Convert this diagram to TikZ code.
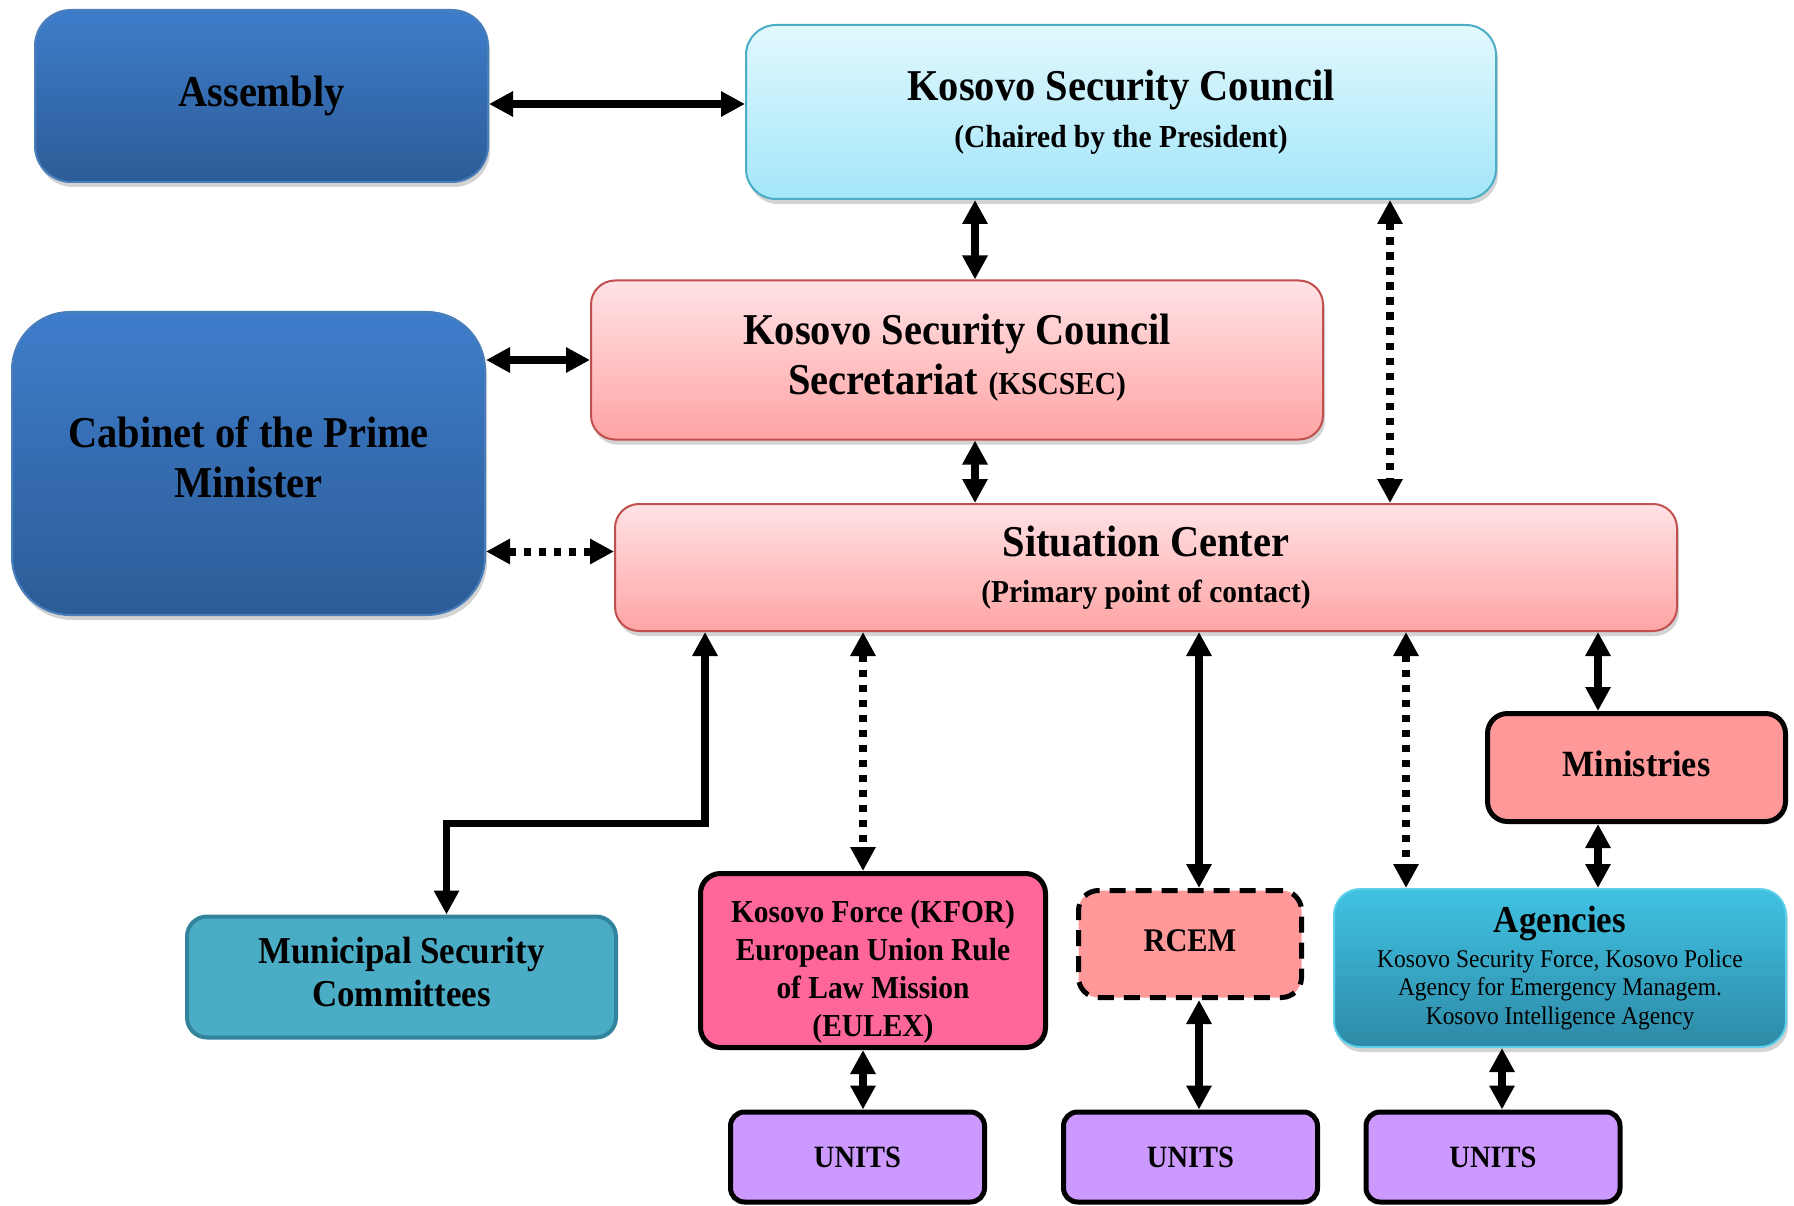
\documentclass[tikz,border=0pt]{standalone}
\usepackage{fontspec}
\setmainfont{Liberation Serif}[FakeStretch=0.92]
\usetikzlibrary{arrows.meta,shadows,positioning}

\definecolor{bluetop}{HTML}{3E7DCB}
\definecolor{bluebot}{HTML}{2C5C97}
\definecolor{blueedge}{HTML}{4A7EBB}
\definecolor{cyantop}{HTML}{E2F8FD}
\definecolor{cyanbot}{HTML}{A3E6FA}
\definecolor{cyanedge}{HTML}{4BACC6}
\definecolor{pinktop}{HTML}{FFE2E5}
\definecolor{pinkbot}{HTML}{FFA4A4}
\definecolor{pinkedge}{HTML}{C0504D}
\definecolor{mscfill}{HTML}{4BACC6}
\definecolor{mscedge}{HTML}{31849B}
\definecolor{kforfill}{HTML}{FF6699}
\definecolor{salmon}{HTML}{FF9999}
\definecolor{unitfill}{HTML}{CC99FF}
\definecolor{agencytop}{HTML}{40C2E3}
\definecolor{agencybot}{HTML}{2E8AA6}
\definecolor{agencyedge}{HTML}{5CCFEA}

\begin{document}
\begin{tikzpicture}[x=1pt, y=-1pt, font=\bfseries,
  every node/.style={inner sep=0pt, align=center},
  glossy/.style={rounded corners=30pt, line width=2pt, drop shadow={shadow xshift=2pt, shadow yshift=-5pt, opacity=0.35}},
  bluebox/.style={glossy, draw=blueedge, top color=bluetop, bottom color=bluebot},
  cyanbox/.style={glossy, draw=cyanedge, top color=cyantop, bottom color=cyanbot},
  pinkbox/.style={glossy, rounded corners=24pt, draw=pinkedge, top color=pinktop, bottom color=pinkbot},
  flatbox/.style={rounded corners=20pt, line width=5pt, draw=black},
  unitbox/.style={flatbox, rounded corners=14pt, fill=unitfill, minimum width=254pt, minimum height=90pt, font=\bfseries\fontsize{31}{36}\selectfont},
  twoway/.style={line width=7.5pt, {Triangle[length=24pt,width=24pt]}-{Triangle[length=24pt,width=24pt]}},
  dotway/.style={twoway, line width=8pt, dash pattern=on 7.5pt off 7.5pt}]
\useasboundingbox (0,0) rectangle (1794,1206);

% top level
\node[bluebox, rounded corners=36pt, minimum width=453pt, minimum height=172pt, font=\bfseries\fontsize{44}{50}\selectfont] (assembly) at (261.5,96) {Assembly};
\node[cyanbox, minimum width=750pt, minimum height=174pt, font=\bfseries\fontsize{44}{47}\selectfont] (ksc) at (1121,112) {Kosovo Security Council\\{\fontsize{32}{47}\selectfont (Chaired by the President)}};
\node[pinkbox, minimum width=732pt, minimum height=159pt, font=\bfseries\fontsize{44}{50}\selectfont] (kscsec) at (957,360) {Kosovo Security Council\\Secretariat {\fontsize{32}{50}\selectfont (KSCSEC)}\rule[-12pt]{0pt}{12pt}};
\node[bluebox, rounded corners=58pt, minimum width=473pt, minimum height=303pt, font=\bfseries\fontsize{44}{50}\selectfont] (cabinet) at (248.5,463.5) {Cabinet of the Prime\\Minister\rule[-13pt]{0pt}{13pt}};
\node[pinkbox, minimum width=1062pt, minimum height=127pt, font=\bfseries\fontsize{44}{46}\selectfont] (sitc) at (1146,567.5) {Situation Center\\{\fontsize{32}{46}\selectfont (Primary point of contact)}};

% lower level
\node[flatbox, draw=mscedge, fill=mscfill, line width=4pt, minimum width=429pt, minimum height=121pt, font=\bfseries\fontsize{38}{43.5}\selectfont] (msc) at (401.5,977) {Municipal Security\\Committees\rule[-10pt]{0pt}{10pt}};
\node[flatbox, fill=kforfill, minimum width=345pt, minimum height=174pt, font=\bfseries\fontsize{32}{38}\selectfont] (kfor) at (873,960.5) {\rule{0pt}{45pt}Kosovo Force (KFOR)\\European Union Rule\\of Law Mission\\(EULEX)};
\node[flatbox, dash pattern=on 16pt off 10pt, fill=salmon, minimum width=223pt, minimum height=107pt, font=\bfseries\fontsize{33}{38}\selectfont] (rcem) at (1190,944) {RCEM\rule[-7pt]{0pt}{7pt}};
\node[flatbox, fill=salmon, minimum width=298pt, minimum height=108pt, font=\bfseries\fontsize{37}{42}\selectfont] (ministries) at (1636.5,767.5) {Ministries\rule[-7pt]{0pt}{7pt}};
\node[glossy, rounded corners=26pt, draw=agencyedge, top color=agencytop, bottom color=agencybot, minimum width=452pt, minimum height=158pt, font=\fontsize{25.5}{28.6}\selectfont] (agencies) at (1560,968) {{\bfseries\fontsize{38}{40}\selectfont Agencies}\\[6pt]Kosovo Security Force, Kosovo Police\\Agency for Emergency Managem.\\Kosovo Intelligence Agency};

\node[unitbox] (units1) at (857.5,1157) {UNITS};
\node[unitbox] (units2) at (1190.5,1157) {UNITS};
\node[unitbox] (units3) at (1493,1157) {UNITS};

% links
\draw[twoway] ([yshift=-8pt]assembly.east) -- ([yshift=-8pt]assembly.east -| ksc.west);
\draw[twoway] ([xshift=18pt]kscsec.north) -- ([xshift=18pt]kscsec.north |- ksc.south);
\draw[dotway] ([xshift=269pt]ksc.south) -- ([xshift=269pt]ksc.south |- sitc.north);
\draw[twoway] (kscsec.west -| cabinet.east) -- (kscsec.west);
\draw[dotway] ([yshift=16pt]sitc.west -| cabinet.east) -- ([yshift=16pt]sitc.west);
\draw[twoway] ([xshift=18pt]kscsec.south) -- ([xshift=18pt]kscsec.south |- sitc.north);
\draw[twoway] ([xshift=-441pt]sitc.south) |- ([xshift=45pt,yshift=91pt]msc.north) -- ([xshift=45pt]msc.north);
\draw[dotway] ([xshift=-10pt]kfor.north |- sitc.south) -- ([xshift=-10pt]kfor.north);
\draw[twoway] ([xshift=-10pt]kfor.south) -- ([xshift=-10pt]kfor.south |- units1.north);
\draw[twoway] ([xshift=9pt]rcem.north |- sitc.south) -- ([xshift=9pt]rcem.north);
\draw[twoway] ([xshift=9pt]rcem.south) -- ([xshift=9pt]rcem.south |- units2.north);
\draw[dotway] ([xshift=-154pt]agencies.north |- sitc.south) -- ([xshift=-154pt]agencies.north);
\draw[twoway] ([xshift=-38.5pt]ministries.north |- sitc.south) -- ([xshift=-38.5pt]ministries.north);
\draw[twoway] ([xshift=-38.5pt]ministries.south) -- ([xshift=-38.5pt]ministries.south |- agencies.north);
\draw[twoway] ([xshift=9pt]units3.north |- agencies.south) -- ([xshift=9pt]units3.north);
\end{tikzpicture}
\end{document}
